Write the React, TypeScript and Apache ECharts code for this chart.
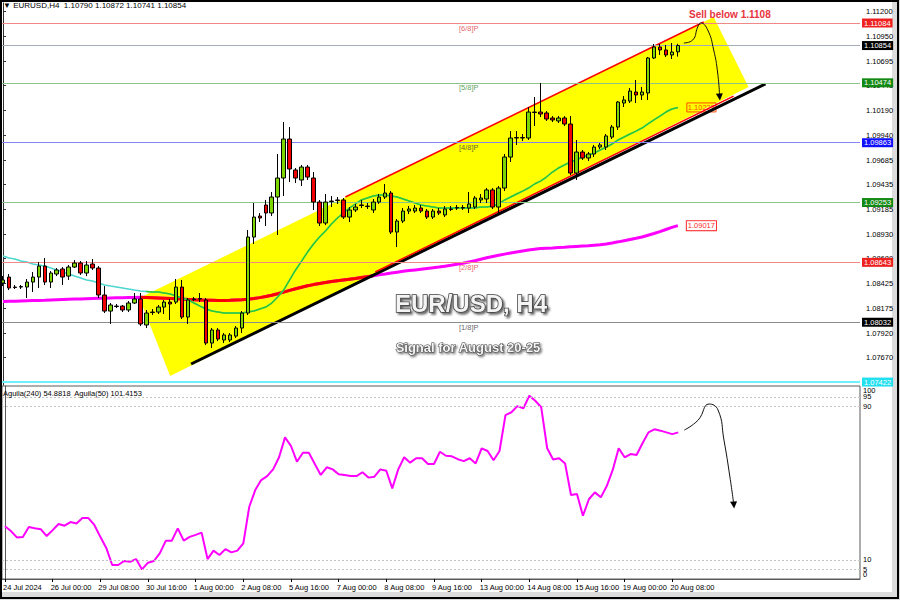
import React, { useEffect, useRef } from "react";
import * as echarts from "echarts";

const FONT = '"Liberation Sans", Arial, sans-serif';

// ---------- axes ----------
const slotCount = 144;
const barsPerTick = 8;
const xTickLabels = [
  "24 Jul 2024", "26 Jul 00:00", "29 Jul 08:00", "30 Jul 16:00", "1 Aug 00:00",
  "2 Aug 08:00", "5 Aug 16:00", "7 Aug 00:00", "8 Aug 08:00", "9 Aug 16:00",
  "13 Aug 00:00", "14 Aug 08:00", "15 Aug 16:00", "19 Aug 00:00", "20 Aug 08:00",
];
const priceMin = 1.07392;
const priceMax = 1.11288;
const priceTicks = [
  1.112, 1.1095, 1.10695, 1.10445, 1.1019, 1.0994, 1.09685, 1.09435,
  1.09185, 1.0893, 1.0868, 1.08425, 1.08175, 1.0792, 1.0767,
];
const indicatorTicks = [5, 10, 90, 95];
const indicatorEndTicks = [0, 100];
const indicatorGuides = [95, 90, 10, 5];

// ---------- candles (H4) ----------
const openPx = [
  1.08432, 1.08493, 1.08391, 1.08391, 1.08391, 1.08442, 1.08493, 1.08605, 1.08442, 1.08524,
  1.08575, 1.08503, 1.08595, 1.08636, 1.08534, 1.08626, 1.08585, 1.0831, 1.08146, 1.08197,
  1.08197, 1.08157, 1.08228, 1.08269, 1.08004, 1.08136, 1.08136, 1.08187, 1.08238, 1.08238,
  1.08391, 1.08085, 1.08269, 1.08269, 1.08259, 1.0782, 1.07953, 1.07851, 1.07851, 1.07891,
  1.07973, 1.08126, 1.08901, 1.09115, 1.09228, 1.09146, 1.09309, 1.09503, 1.09901, 1.09585,
  1.09483, 1.09615, 1.09503, 1.09258, 1.09044, 1.09268, 1.09279, 1.09279, 1.09105, 1.09177,
  1.09228, 1.09217, 1.09177, 1.09258, 1.09309, 1.0935, 1.08952, 1.09064, 1.09166, 1.09166,
  1.09197, 1.09166, 1.09105, 1.09166, 1.09126, 1.09187, 1.09197, 1.09197, 1.09197, 1.09207,
  1.09279, 1.09289, 1.09381, 1.09207, 1.09401, 1.09717, 1.09911, 1.09911, 1.09911, 1.10171,
  1.10176, 1.10166, 1.10115, 1.10085, 1.10115, 1.10054, 1.09554, 1.09768, 1.09707, 1.09748,
  1.09819, 1.09819, 1.09921, 1.10023, 1.10268, 1.10288, 1.1038, 1.1035, 1.1037, 1.10727,
  1.10839, 1.10809, 1.10758, 1.1079,
];
const closePx = [
  1.08463, 1.08381, 1.08386, 1.08396, 1.08442, 1.08493, 1.08605, 1.08442, 1.08534, 1.08565,
  1.08493, 1.08595, 1.08636, 1.08534, 1.08616, 1.08585, 1.0831, 1.08146, 1.08208, 1.08192,
  1.08157, 1.08228, 1.08269, 1.08014, 1.08126, 1.08131, 1.08187, 1.08238, 1.08218, 1.08391,
  1.08085, 1.08259, 1.08264, 1.08274, 1.0782, 1.07953, 1.07861, 1.07902, 1.07902, 1.07973,
  1.08126, 1.08901, 1.09105, 1.09095, 1.09146, 1.09309, 1.09503, 1.09901, 1.09595, 1.09503,
  1.09615, 1.09513, 1.09258, 1.09044, 1.09258, 1.09263, 1.09274, 1.09105, 1.09177, 1.09207,
  1.09223, 1.09212, 1.09258, 1.09309, 1.0935, 1.08952, 1.09064, 1.09166, 1.09187, 1.09197,
  1.09166, 1.09105, 1.09166, 1.09146, 1.09187, 1.09182, 1.09202, 1.09202, 1.09238, 1.09299,
  1.09299, 1.09381, 1.09207, 1.09401, 1.09717, 1.09911, 1.09916, 1.09916, 1.10176, 1.10176,
  1.10156, 1.10105, 1.10095, 1.10115, 1.10054, 1.09554, 1.09768, 1.09707, 1.09748, 1.09819,
  1.0984, 1.09932, 1.10023, 1.10278, 1.10299, 1.1039, 1.1035, 1.1038, 1.10727, 1.10839,
  1.10809, 1.10758, 1.10788, 1.10854,
];
const lowPx = [
  1.08401, 1.0836, 1.08371, 1.08371, 1.08279, 1.0834, 1.08381, 1.08412, 1.08381, 1.08503,
  1.08412, 1.08463, 1.08585, 1.08514, 1.08503, 1.08565, 1.08279, 1.08126, 1.08014, 1.08177,
  1.08136, 1.08136, 1.08218, 1.07993, 1.07973, 1.08106, 1.08116, 1.08116, 1.08055, 1.08218,
  1.08065, 1.08014, 1.08248, 1.08238, 1.07799, 1.07769, 1.0784, 1.0782, 1.0783, 1.07871,
  1.07922, 1.08106, 1.0883, 1.09054, 1.09013, 1.09115, 1.08922, 1.09319, 1.09462, 1.09452,
  1.09421, 1.09483, 1.09177, 1.09013, 1.09023, 1.09207, 1.09238, 1.09085, 1.09054, 1.09156,
  1.09197, 1.09187, 1.09146, 1.09238, 1.09289, 1.08932, 1.08799, 1.09044, 1.09136, 1.09146,
  1.09146, 1.09085, 1.09085, 1.09126, 1.09105, 1.09166, 1.09177, 1.09177, 1.09146, 1.09187,
  1.09248, 1.09248, 1.09187, 1.09136, 1.0937, 1.09666, 1.0984, 1.09881, 1.09891, 1.10033,
  1.10125, 1.10085, 1.10074, 1.10064, 1.10033, 1.09533, 1.09483, 1.09687, 1.09676, 1.09717,
  1.09799, 1.09789, 1.09901, 1.09993, 1.10227, 1.10268, 1.10268, 1.10299, 1.10299, 1.10717,
  1.10758, 1.10737, 1.10717, 1.10741,
];
const highPx = [
  1.08503, 1.08524, 1.08412, 1.08412, 1.08473, 1.08544, 1.08646, 1.08687, 1.08554, 1.08585,
  1.08595, 1.08616, 1.08666, 1.08656, 1.08656, 1.08677, 1.08605, 1.08401, 1.08228, 1.08218,
  1.08208, 1.08248, 1.0833, 1.0833, 1.08157, 1.08167, 1.08208, 1.08259, 1.08269, 1.08473,
  1.08463, 1.08279, 1.08289, 1.0833, 1.08279, 1.07973, 1.07973, 1.07922, 1.07922, 1.07993,
  1.08146, 1.08973, 1.09248, 1.09146, 1.09279, 1.0936, 1.09748, 1.10074, 1.10023, 1.09605,
  1.09636, 1.09636, 1.09564, 1.09279, 1.0934, 1.09319, 1.09309, 1.09299, 1.09207, 1.09238,
  1.09279, 1.09248, 1.09289, 1.0934, 1.09442, 1.0937, 1.09085, 1.09197, 1.09217, 1.09228,
  1.09228, 1.09187, 1.09187, 1.09197, 1.09217, 1.09217, 1.09228, 1.09228, 1.0936, 1.09319,
  1.0934, 1.09401, 1.09401, 1.09421, 1.09748, 1.09982, 1.09982, 1.09952, 1.10227, 1.10329,
  1.10472, 1.10186, 1.10135, 1.10135, 1.10135, 1.10135, 1.09891, 1.09789, 1.09768, 1.0984,
  1.0986, 1.09952, 1.10044, 1.10288, 1.10339, 1.10421, 1.10503, 1.10431, 1.10737, 1.1087,
  1.1087, 1.1086, 1.1088, 1.10872,
];

// ---------- moving averages ----------
const ma21 = [
  1.08707, 1.08687, 1.08677, 1.08656, 1.08646, 1.08626, 1.08616, 1.08605, 1.08585, 1.08565,
  1.08544, 1.08524, 1.08503, 1.08483, 1.08463, 1.08452, 1.08432, 1.08412, 1.08401, 1.08391,
  1.08381, 1.08371, 1.0836, 1.0835, 1.08345, 1.0834, 1.0834, 1.0833, 1.0832, 1.08299,
  1.08279, 1.08259, 1.08228, 1.08197, 1.08167, 1.08146, 1.08136, 1.08126, 1.08126, 1.08126,
  1.08126, 1.08136, 1.08146, 1.08167, 1.08187, 1.08228, 1.08289, 1.0836, 1.08463, 1.08565,
  1.08656, 1.08748, 1.0883, 1.08901, 1.08962, 1.09034, 1.09095, 1.09146, 1.09197, 1.09238,
  1.09279, 1.09299, 1.09319, 1.0933, 1.0933, 1.09319, 1.09309, 1.09289, 1.09268, 1.09248,
  1.09228, 1.09217, 1.09207, 1.09197, 1.09197, 1.09197, 1.09197, 1.09197, 1.09197, 1.09197,
  1.09207, 1.09207, 1.09217, 1.09238, 1.09279, 1.09309, 1.0934, 1.0937, 1.09401, 1.09442,
  1.09472, 1.09513, 1.09564, 1.09605, 1.09636, 1.09666, 1.09687, 1.09717, 1.09738, 1.09758,
  1.09789, 1.09819, 1.0985, 1.09891, 1.09921, 1.09952, 1.09982, 1.10013, 1.10054, 1.10095,
  1.10135, 1.10176, 1.10207, 1.10223,
];
const ma200 = [
  1.08243, 1.08245, 1.08247, 1.08249, 1.08251, 1.08253, 1.08255, 1.08257, 1.0826, 1.08262,
  1.08264, 1.08266, 1.08268, 1.0827, 1.08272, 1.08274, 1.08276, 1.08278, 1.0828, 1.08282,
  1.08283, 1.08284, 1.08285, 1.08286, 1.08285, 1.08283, 1.0828, 1.08277, 1.08274, 1.08271,
  1.08268, 1.08265, 1.08262, 1.0826, 1.08257, 1.08256, 1.08255, 1.08255, 1.08256, 1.08259,
  1.08262, 1.08267, 1.08274, 1.08283, 1.08295, 1.08308, 1.08323, 1.08339, 1.08357, 1.08374,
  1.08389, 1.08404, 1.08416, 1.08427, 1.08437, 1.08447, 1.08455, 1.08463, 1.08471, 1.08479,
  1.08488, 1.08497, 1.08506, 1.08515, 1.08524, 1.08534, 1.08543, 1.08551, 1.08559, 1.08566,
  1.08573, 1.0858, 1.08587, 1.08595, 1.08604, 1.08613, 1.08623, 1.08634, 1.08647, 1.0866,
  1.08674, 1.08689, 1.08702, 1.08715, 1.08727, 1.08739, 1.08749, 1.08759, 1.08768, 1.08777,
  1.08783, 1.08787, 1.0879, 1.08794, 1.08797, 1.08801, 1.08805, 1.08809, 1.08813, 1.08818,
  1.08822, 1.08831, 1.08841, 1.08852, 1.08864, 1.08876, 1.08888, 1.08901, 1.08919, 1.08937,
  1.08956, 1.08978, 1.09, 1.09017,
];

// ---------- indicator ----------
const aguila = [
  27.5, 25, 21.7, 21.9, 27.1, 26.5, 26, 22.4, 25.5, 28.7,
  27.8, 29.7, 29, 31.8, 31.8, 28.2, 22, 16.2, 7.3, 7.3,
  9.4, 9, 10.4, 5, 8.5, 9.4, 13.5, 20, 20, 26.4,
  20, 22, 23, 24.2, 10.4, 14.8, 12.5, 15.6, 13.9, 14.8,
  18.6, 37.7, 46.4, 51.6, 53.7, 57.2, 63.5, 73.9, 69.4, 61.2,
  65.9, 65.9, 60, 54.3, 58.3, 57.2, 54.6, 54.3, 53.7, 53.7,
  55.7, 52.9, 53.4, 57.2, 56.5, 47.3, 57.2, 63.5, 60.7, 63,
  63, 60, 60, 66.4, 64.3, 64, 62.5, 61.5, 63, 60.3,
  68.2, 66.8, 62, 66.8, 85.5, 87, 90.2, 89, 95.6, 93,
  89.6, 68.2, 62.4, 63, 60.3, 43.8, 44.3, 33, 41.6, 45.2,
  42.6, 48.5, 56.9, 68.2, 63.5, 65.2, 64.7, 70.8, 76.5, 78.1,
  77.4, 76.5, 75.6, 76.5,
];

// ---------- horizontal levels ----------
const levelPrices = [1.11084, 1.10854, 1.10474, 1.09863, 1.09253, 1.08643, 1.08032, 1.07422];
const levelLineColors = ["#f08888", "#a4acb8", "#8cc48c", "#8484f4", "#8cc48c", "#f08888", "#8c8c8c", "#70f0f8"];
const levelBoxColors = ["#ee2020", "#000000", "#138a13", "#1010ff", "#138a13", "#ee2020", "#000000", "#22e0f0"];
const murreyTexts = ["[6/8]P", "[5/8]P", "[4/8]P", "[2/8]P", "[1/8]P"];
const murreyPrices = [1.11084, 1.10474, 1.09863, 1.08643, 1.08032];
const murreyColors = ["#e03c3c", "#2f8a2f", "#3a3a3a", "#e03c3c", "#3a3a3a"];
const murreyBar = 78;

// ---------- drawn objects (bar index, price) ----------
const channelPoly = [[22.83, 1.08279], [28, 1.07483], [124.83, 1.10431], [119, 1.11145]];
const trendLine = [[31.5, 1.07606], [127.67, 1.10462]];
const channelTop = [[57.33, 1.09309], [117.33, 1.11094]];
const channelBottom = [[62.33, 1.08544], [122.33, 1.10339]];
const priceArrow = [
  [114, 1.1088], [115.5, 1.10911], [116.33, 1.11043], [116.83, 1.11084],
  [118, 1.11013], [119, 1.10809], [119.67, 1.10574], [120, 1.10329],
];
const indicatorArrow = [
  [114, 77.7], [116.33, 82.9], [118.17, 91.3], [119.67, 88.2],
  [120.67, 72.5], [121.67, 53.2], [122.33, 38.6],
];

function inPoly(x: number, y: number, poly: number[][]) {
  let c = false;
  for (let a = 0, b = poly.length - 1; a < poly.length; b = a++) {
    const [xa, ya] = poly[a];
    const [xb, yb] = poly[b];
    if (ya > y !== yb > y && x < ((xb - xa) * (y - ya)) / (yb - ya) + xa) c = !c;
  }
  return c;
}
function insidePart(arr: number[]) {
  const m = arr.map((v, i) => inPoly(i, v, channelPoly));
  return arr.map((v, i) => (m[i] || m[i - 1] || m[i + 1] ? v : null));
}

function buildOption() {
  const cats = Array.from({ length: slotCount }, (_, i) => String(i));
  const tickShown = (idx: number) => idx % barsPerTick === 0 && idx / barsPerTick < xTickLabels.length;
  const candles = openPx.map((o, i) => [o, closePx[i], lowPx[i], highPx[i]]);
  const last = openPx.length - 1;
  const header = `\u25BC EURUSD,H4  ${openPx[last].toFixed(5)} ${highPx[last].toFixed(5)} ${lowPx[last].toFixed(5)} ${closePx[last].toFixed(5)}`;
  const arrowSymbol = (n: number) => (_v: any, p: any) => (p.dataIndex === n - 1 ? "triangle" : "none");

  const levelMarkLine = {
    silent: true, symbol: ["none", "none"], animation: false, precision: 5,
    data: levelPrices.map((p, k) => ({
      yAxis: p,
      lineStyle: { color: levelLineColors[k], width: k === 7 ? 2 : 1, type: "solid" },
      label: {
        show: true, position: "end", distance: 2, formatter: p.toFixed(5),
        backgroundColor: levelBoxColors[k], color: "#fff", padding: [1, 2, 0, 2], fontSize: 7.5, fontFamily: FONT,
      },
    })),
  };

  return {
    animation: false,
    backgroundColor: "#ffffff",
    textStyle: { fontFamily: FONT },
    grid: [
      { left: -4, top: 3, width: 864, height: 382, show: false },
      { left: -4, top: 386, width: 864, height: 193, show: true, borderColor: "#5a5a5a", borderWidth: 1, backgroundColor: "transparent" },
    ],
    xAxis: [
      { type: "category", gridIndex: 0, data: cats, show: false },
      { type: "value", gridIndex: 0, min: -0.5, max: slotCount - 0.5, show: false },
      {
        type: "category", gridIndex: 1, data: cats,
        axisLine: { show: true, lineStyle: { color: "#5a5a5a" } },
        axisTick: { show: true, alignWithLabel: true, interval: tickShown, length: 3, lineStyle: { color: "#000" } },
        axisLabel: {
          interval: tickShown, align: "left", margin: 4, fontSize: 7.5, color: "#000", fontFamily: FONT,
          padding: [0, 0, 0, -2],
          formatter: (_v: string, idx: number) => xTickLabels[idx / barsPerTick] ?? "",
        },
        splitLine: { show: false },
      },
      { type: "value", gridIndex: 1, min: -0.5, max: slotCount - 0.5, show: false },
    ],
    yAxis: [
      {
        type: "value", gridIndex: 0, position: "right", min: priceMin, max: priceMax,
        axisLine: { show: true, lineStyle: { color: "#303030" } },
        axisTick: { show: true, customValues: priceTicks, length: 3, lineStyle: { color: "#303030" } },
        axisLabel: { customValues: priceTicks, formatter: (v: number) => v.toFixed(5), fontSize: 7.5, color: "#000", margin: 6, fontFamily: FONT },
        splitLine: { show: false },
      },
      {
        type: "value", gridIndex: 1, position: "right", min: 0, max: 100.7,
        axisLine: { show: true, lineStyle: { color: "#5a5a5a" } },
        axisTick: { show: true, customValues: indicatorTicks, length: 2, lineStyle: { color: "#5a5a5a" } },
        axisLabel: { customValues: indicatorTicks, fontSize: 7.5, color: "#000", margin: 3, fontFamily: FONT },
        splitLine: { show: false },
      },
      {
        type: "value", gridIndex: 1, position: "right", min: 0, max: 100.7,
        axisLine: { show: false }, axisTick: { show: false }, splitLine: { show: false },
        axisLabel: {
          customValues: indicatorEndTicks, fontSize: 7.5, color: "#000", margin: 3, fontFamily: FONT,
          formatter: (v: number) => (v === 0 ? "{b|0}" : "{t|" + v + "}"),
          rich: { t: { padding: [7, 0, 0, 0], fontSize: 7.5 }, b: { padding: [0, 0, 10, 0], fontSize: 7.5 } },
        },
      },
    ],
    series: [
      {
        type: "custom", xAxisIndex: 1, yAxisIndex: 0, z: 1, silent: true,
        data: [channelPoly[0]],
        renderItem: (_p: any, api: any) => ({
          type: "polygon",
          shape: { points: channelPoly.map((pt) => api.coord(pt)) },
          style: { fill: "#ffff00" },
        }),
      },
      {
        type: "line", xAxisIndex: 0, yAxisIndex: 0, z: 3, data: ma200, symbol: "none", silent: true,
        lineStyle: { color: "#ff00ff", width: 3 },
        endLabel: {
          show: true, distance: 9, formatter: (p: any) => Number(p.value).toFixed(5),
          color: "#ff2a2a", borderColor: "#ff2a2a", borderWidth: 1, backgroundColor: "#fff", padding: [1, 1, 0, 1], fontSize: 7.5, fontFamily: FONT,
        },
        markLine: levelMarkLine,
      },
      {
        type: "line", xAxisIndex: 0, yAxisIndex: 0, z: 3, data: insidePart(ma200), symbol: "none", silent: true,
        lineStyle: { color: "#ff0000", width: 3 },
      },
      {
        type: "line", xAxisIndex: 0, yAxisIndex: 0, z: 3, data: ma21, symbol: "none", silent: true,
        lineStyle: { color: "#4cd6d0", width: 1.5 },
      },
      {
        type: "line", xAxisIndex: 0, yAxisIndex: 0, z: 3, data: insidePart(ma21), symbol: "none", silent: true,
        lineStyle: { color: "#2ec82e", width: 1.5 },
        endLabel: {
          show: true, distance: 9, formatter: (p: any) => Number(p.value).toFixed(5),
          color: "#ff4a00", borderColor: "#ff4a00", borderWidth: 1, padding: [1, 1, 0, 1], fontSize: 7.5, fontFamily: FONT,
        },
      },
      {
        type: "line", xAxisIndex: 1, yAxisIndex: 0, z: 4, data: trendLine, symbol: "none", silent: true,
        lineStyle: { color: "#000", width: 3 },
      },
      {
        type: "line", xAxisIndex: 1, yAxisIndex: 0, z: 4, data: channelTop, symbol: "none", silent: true,
        lineStyle: { color: "#ff0000", width: 1.5 },
      },
      {
        type: "line", xAxisIndex: 1, yAxisIndex: 0, z: 4, data: channelBottom, symbol: "none", silent: true,
        lineStyle: { color: "#ff0000", width: 1.5 },
      },
      {
        type: "candlestick", xAxisIndex: 0, yAxisIndex: 0, z: 5, data: candles, barWidth: 4, silent: true,
        itemStyle: { color: "#7ed600", color0: "#f00000", borderColor: "#000", borderColor0: "#000", borderWidth: 1 },
      },
      {
        type: "scatter", xAxisIndex: 1, yAxisIndex: 0, z: 6, symbolSize: 0, silent: true,
        data: murreyPrices.map((p, k) => ({ value: [murreyBar, p], label: { color: murreyColors[k] } })),
        label: {
          show: true, position: "bottom", distance: 1, fontSize: 7.5, fontFamily: FONT,
          formatter: (p: any) => murreyTexts[p.dataIndex],
        },
      },
      {
        type: "line", xAxisIndex: 1, yAxisIndex: 0, z: 7, data: priceArrow, smooth: 0.5, silent: true,
        showSymbol: true, symbol: arrowSymbol(priceArrow.length), symbolSize: 7, symbolRotate: 185,
        itemStyle: { color: "#000" }, lineStyle: { color: "#111", width: 1 },
      },
      {
        type: "line", xAxisIndex: 2, yAxisIndex: 1, z: 3, data: aguila, symbol: "none", silent: true,
        lineStyle: { color: "#ff00ff", width: 2 },
        markLine: {
          silent: true, symbol: ["none", "none"], animation: false, label: { show: false },
          lineStyle: { color: "#c4c4c4", type: [2, 2], width: 1 },
          data: indicatorGuides.map((v) => ({ yAxis: v })),
        },
      },
      {
        type: "line", xAxisIndex: 3, yAxisIndex: 1, z: 7, data: indicatorArrow, smooth: 0.5, silent: true,
        showSymbol: true, symbol: arrowSymbol(indicatorArrow.length), symbolSize: 7, symbolRotate: 185,
        itemStyle: { color: "#000" }, lineStyle: { color: "#111", width: 1 },
      },
    ],
    graphic: [
      { type: "rect", z: 0, silent: true, shape: { x: 892, y: 0, width: 8, height: 600 }, style: { fill: "#dcdcdc" } },
      { type: "rect", z: 0, silent: true, shape: { x: 0, y: 592, width: 900, height: 8 }, style: { fill: "#dcdcdc" } },
      { type: "rect", z: 100, silent: true, shape: { x: 1, y: 1, width: 897, height: 597 }, style: { fill: "none", stroke: "#000", lineWidth: 2 } },
      { type: "text", z: 100, silent: true, x: 3, y: 5, style: { text: header, font: `8px ${FONT}`, fill: "#000", verticalAlign: "middle" } },
      { type: "text", z: 100, silent: true, x: 689, y: 14, style: { text: "Sell below 1.1108", font: `bold 10px ${FONT}`, fill: "#e8343e", verticalAlign: "middle" } },
      {
        type: "text", z: 100, silent: true, x: 471, y: 303,
        style: {
          text: "EUR/USD, H4", font: `bold 24px ${FONT}`, fill: "#f4f4f4", stroke: "#3c3c3c", lineWidth: 1.5,
          align: "center", verticalAlign: "middle",
          textShadowColor: "rgba(0,0,0,0.6)", textShadowBlur: 2, textShadowOffsetX: 2, textShadowOffsetY: 2,
        },
      },
      {
        type: "text", z: 100, silent: true, x: 468, y: 347,
        style: {
          text: "Signal for August 20-25", font: `bold 13px ${FONT}`, fill: "#f4f4f4", stroke: "#3c3c3c", lineWidth: 1,
          align: "center", verticalAlign: "middle",
          textShadowColor: "rgba(0,0,0,0.6)", textShadowBlur: 2, textShadowOffsetX: 1.5, textShadowOffsetY: 1.5,
        },
      },
      { type: "text", z: 100, silent: true, x: 3, y: 393, style: { text: "Aguila(240) 54.8818  Aguila(50) 101.4153", font: `7.5px ${FONT}`, fill: "#000", verticalAlign: "middle" } },
    ],
  };
}

export default function App() {
  const ref = useRef<HTMLDivElement>(null);
  useEffect(() => {
    if (!ref.current) return;
    const chart = echarts.init(ref.current, null, { renderer: "svg" });
    chart.setOption(buildOption() as any);
    return () => chart.dispose();
  }, []);
  return <div ref={ref} style={{ position: "absolute", left: 0, top: 0, width: 900, height: 600, background: "#fff" }} />;
}
